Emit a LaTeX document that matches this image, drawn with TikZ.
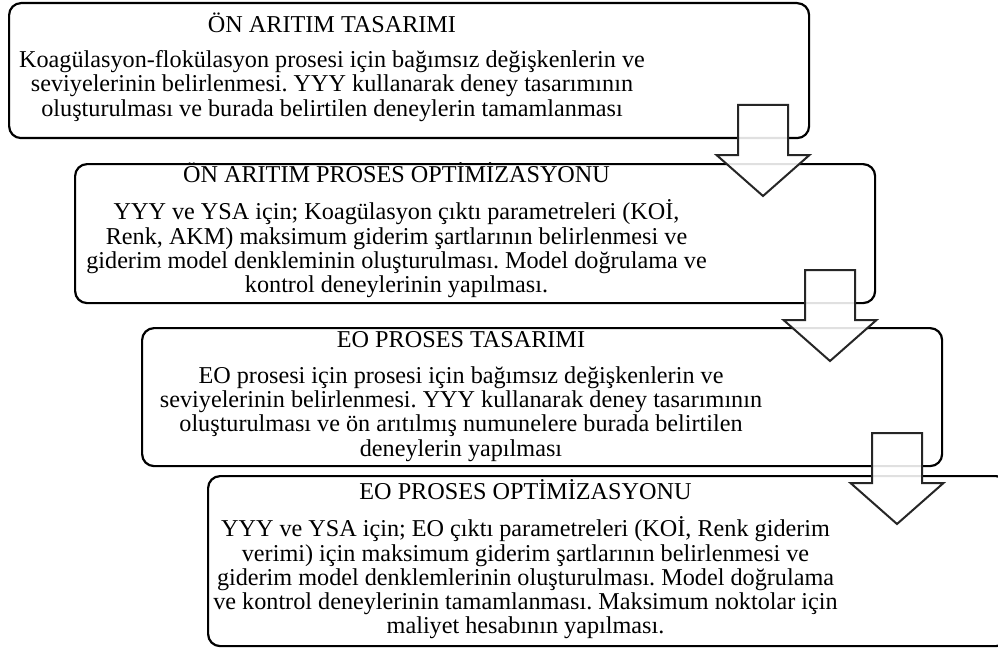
\documentclass[tikz,border=0pt]{standalone}
\usepackage{fontspec}
\setmainfont{Liberation Serif}
\frenchspacing
\begin{document}
\begin{tikzpicture}[x=1pt,y=-1pt,
  stage/.style={draw=black, line width=2.2pt, rounded corners=12pt, fill=white,
    inner sep=0pt, minimum width=800pt, anchor=north west},
  ttl/.style={font=\fontsize{24.2}{24.3}\selectfont, inner sep=0pt},
  txt/.style={font=\fontsize{24.2}{24.3}\selectfont, align=center, inner sep=0pt},
  dnarrow/.pic={
    \draw[line width=2pt, draw=black!85, fill=white, fill opacity=0.88, line join=miter]
      (-25,0) -- (25,0) -- (25,50) -- (46.5,50) -- (0,91) -- (-46.5,50) -- (-25,50) -- cycle;
  }]
\useasboundingbox (0,0) rectangle (998,650);
\clip (0,0) rectangle (998,650);
\fill[white] (0,0) rectangle (998,650);

% four staggered process stages
\node[stage, minimum height=135pt] (b1) at (8,2) {};
\node[stage, minimum height=139pt] (b2) at (74,163) {};
\node[stage, minimum height=138pt] (b3) at (141,327) {};
\node[stage, minimum height=170pt] (b4) at (207,475) {};

% stage 1
\node[ttl] (t1) at (332,23) {ÖN ARITIM TASARIMI};
\node[txt] (d1) at (332,86) {Koagülasyon-flokülasyon prosesi için bağımsız değişkenlerin ve\\
seviyelerinin belirlenmesi. YYY kullanarak deney tasarımının\\
oluşturulması ve burada belirtilen deneylerin tamamlanması};

% stage 2
\node[ttl] (t2) at (396.5,173) {ÖN ARITIM PROSES OPTİMİZASYONU};
\node[txt] (d2) at (396.5,249) {YYY ve YSA için; Koagülasyon çıktı parametreleri (KOİ,\\
Renk, AKM) maksimum giderim şartlarının belirlenmesi ve\\
giderim model denkleminin oluşturulması. Model doğrulama ve\\
kontrol deneylerinin yapılması.};

% stage 3
\node[ttl] (t3) at (461,340) {EO PROSES TASARIMI};
\node[txt] (d3) at (461,414) {EO prosesi için prosesi için bağımsız değişkenlerin ve\\
seviyelerinin belirlenmesi. YYY kullanarak deney tasarımının\\
oluşturulması ve ön arıtılmış numunelere burada belirtilen\\
deneylerin yapılması};

% stage 4
\node[ttl] (t4) at (525.5,490) {EO PROSES OPTİMİZASYONU};
\node[txt] (d4) at (525.5,578) {YYY ve YSA için; EO çıktı parametreleri (KOİ, Renk giderim\\
verimi) için maksimum giderim şartlarının belirlenmesi ve\\
giderim model denklemlerinin oluşturulması. Model doğrulama\\
ve kontrol deneylerinin tamamlanması. Maksimum noktolar için\\
maliyet hesabının yapılması.};

% block arrows between stages
\pic at (763,105) {dnarrow};
\pic at (830,270) {dnarrow};
\pic at (897,433) {dnarrow};
\end{tikzpicture}
\end{document}
